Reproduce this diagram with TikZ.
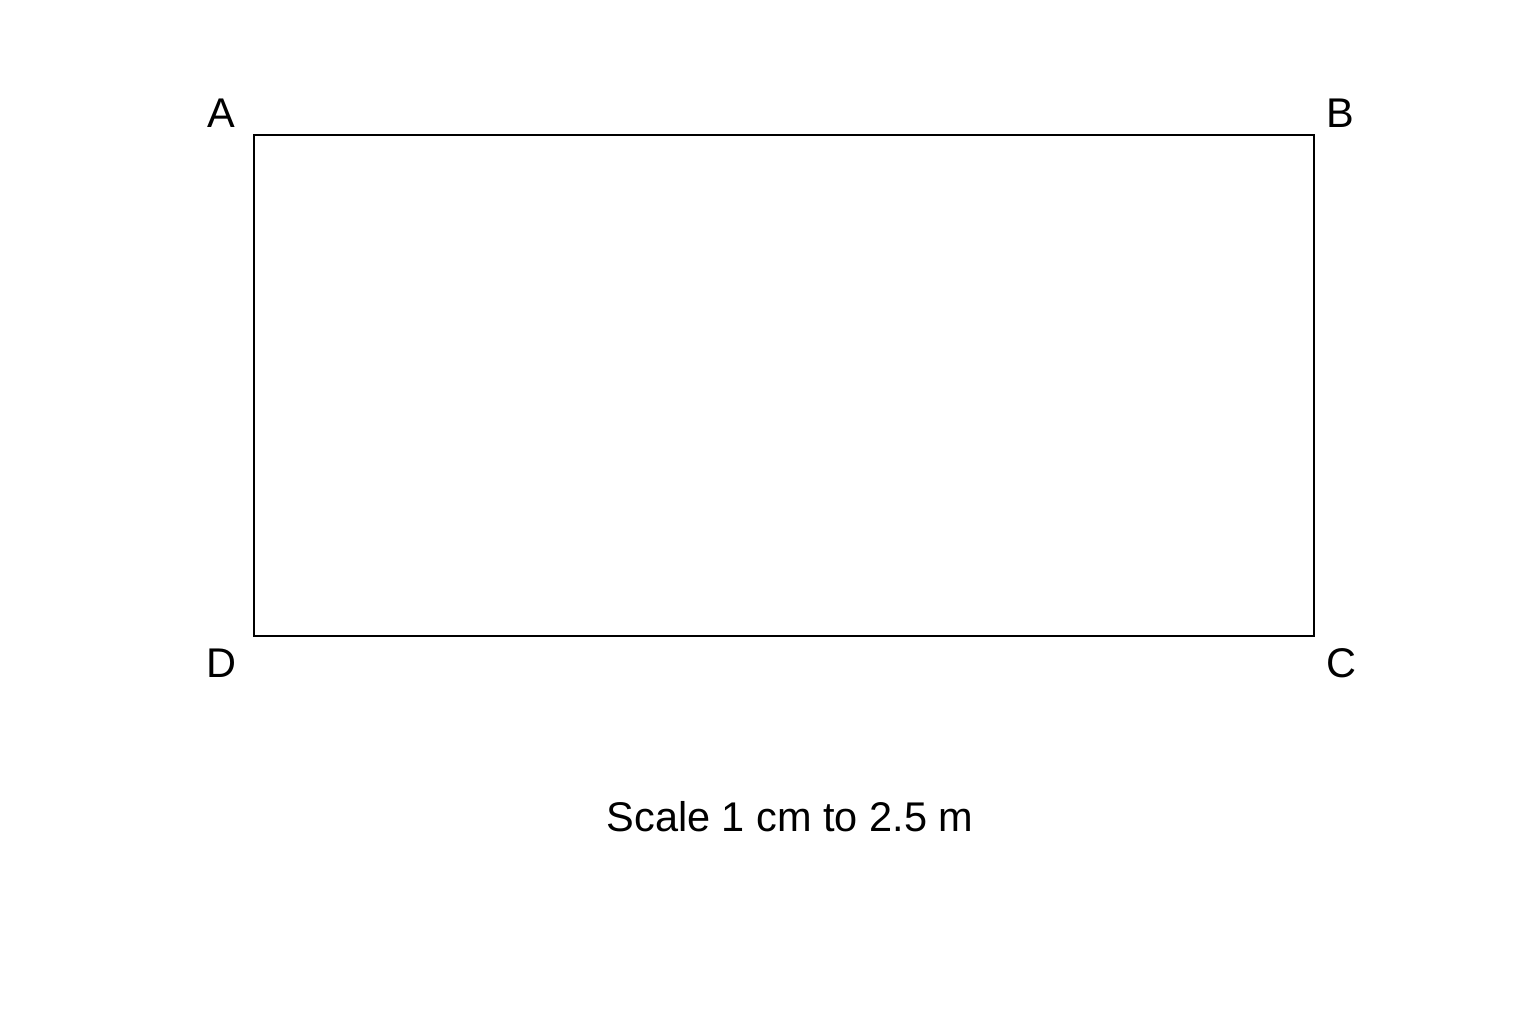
\documentclass[tikz,border=0pt]{standalone}
\usepackage{fontspec}
\setmainfont{Liberation Sans}
\begin{document}
\begin{tikzpicture}[x=0.01cm,y=-0.01cm,
  lbl/.style={font=\fontsize{11.8pt}{14pt}\selectfont, inner sep=0pt},
  edge/.style={line width=0.6pt}]
\useasboundingbox (0,0) rectangle (1536,1024);
\coordinate (a) at (254,135);
\coordinate (b) at (1314,135);
\coordinate (c) at (1314,636);
\coordinate (d) at (254,636);
\draw[edge] (a) -- (b) -- (c) -- (d) -- cycle;
\node[lbl] (la) at (221,113) {A};
\node[lbl] (lb) at (1340,113) {B};
\node[lbl] (lc) at (1341,663) {C};
\node[lbl] (ld) at (221,663) {D};
\node[lbl] (scale) at (790,817) {Scale 1 cm to 2.5 m};
\end{tikzpicture}
\end{document}
